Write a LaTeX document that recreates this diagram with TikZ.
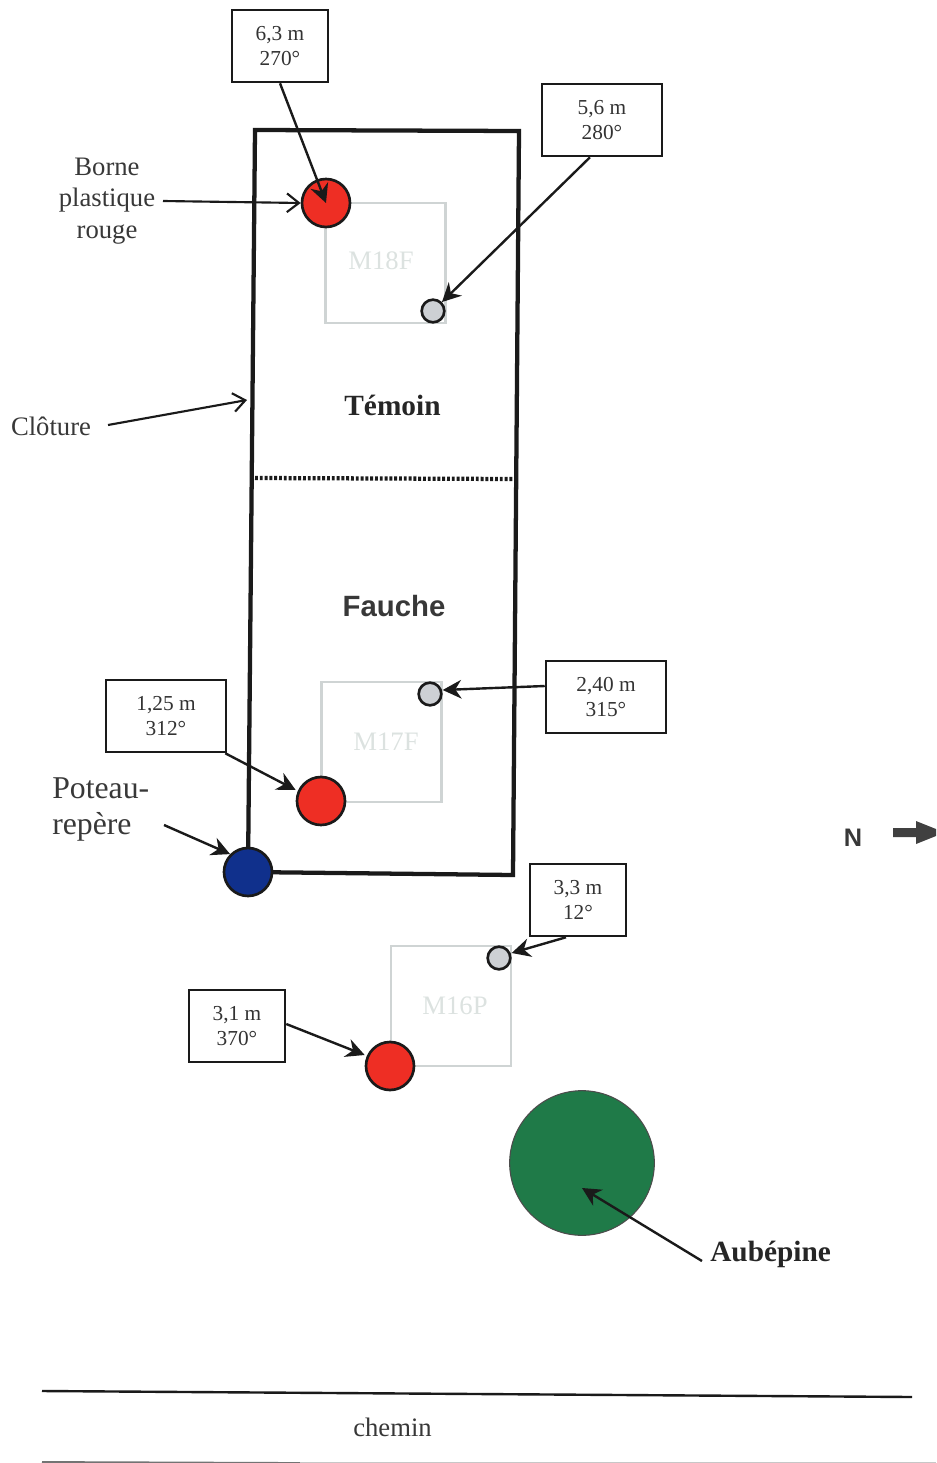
\documentclass[tikz,border=0pt]{standalone}
\usepackage{fontspec}
\setmainfont{Liberation Serif}
\setsansfont{Liberation Sans}
\usetikzlibrary{arrows.meta,calc}
\definecolor{inkc}{HTML}{1A1A1A}
\definecolor{redc}{HTML}{EE2E24}
\definecolor{bluec}{HTML}{10308C}
\definecolor{greenc}{HTML}{1F7A48}
\definecolor{greyc}{HTML}{CDD0D4}
\definecolor{plotc}{HTML}{CFD4D4}
\definecolor{plottxt}{HTML}{DCE2E0}
\tikzset{
  x=0.75pt,y=-0.75pt,
  measure/.style={draw=inkc,line width=1.9pt,fill=white,inner sep=0pt,align=center,text=black!80,
    font=\fontsize{16pt}{18.8pt}\selectfont},
  label26/.style={inner sep=0pt,align=center,text=black!78,font=\fontsize{20pt}{23.6pt}\selectfont},
  boldlab/.style={inner sep=0pt,text=black!85,font=\fontsize{22pt}{26pt}\selectfont\bfseries},
  plotbox/.style={draw=plotc,line width=1.6pt,minimum width=90pt,minimum height=90pt,inner sep=0pt},
  plottext/.style={inner sep=0pt,text=plottxt,font=\fontsize{20pt}{22pt}\selectfont},
  bigdot/.style={circle,draw=inkc,line width=2pt,minimum size=36pt,inner sep=0pt},
  smalldot/.style={circle,draw=inkc,line width=2pt,fill=greyc,minimum size=17pt,inner sep=0pt},
  arr/.style={draw=inkc,line width=1.8pt,-{Stealth[length=14pt,width=14pt]}},
  openarr/.style={draw=inkc,line width=1.6pt,-{Straight Barb[length=9pt,width=14pt]}},
}
\begin{document}
\begin{tikzpicture}
\useasboundingbox (0,0) rectangle (936,1463);
% plots
\node[plotbox] (p18) at (385.5,263) {};
\node[plottext] (t18) at (381,261) {M18F};
\node[plotbox] (p17) at (381.5,742) {};
\node[plottext] (t17) at (386,742) {M17F};
\node[plotbox] (p16) at (451,1006) {};
\node[plottext] (t16) at (455,1006) {M16P};
% fence
\coordinate (f1) at (255,130);
\coordinate (f2) at (519,131);
\coordinate (f3) at (513,875);
\coordinate (f4) at (248,872);
\draw[inkc,line width=3.2pt,line join=miter] (f1) -- (f2) -- (f3) -- (f4) -- cycle;
\coordinate (d1) at (255,478);
\coordinate (d2) at (513,479);
\draw[inkc,line width=3.2pt,dash pattern=on 2.2pt off 1.4pt] (d1) -- (d2);
% markers
\node[bigdot,fill=redc] (r18) at (326,203) {};
\node[smalldot] (g18) at (433,311) {};
\node[bigdot,fill=redc] (r17) at (321,801) {};
\node[smalldot] (g17) at (430,694) {};
\node[bigdot,fill=redc] (r16) at (390,1066) {};
\node[smalldot] (g16) at (499,958) {};
\node[bigdot,fill=bluec] (post) at (248,872) {};
\node[circle,draw=black!70,line width=.8pt,fill=greenc,minimum size=108.5pt,inner sep=0pt] (tree) at (582,1163) {};
% measure boxes
\node[measure,minimum width=72pt,minimum height=54pt] (b1) at (280,46) {6,3 m\\270°};
\node[measure,minimum width=90pt,minimum height=54pt] (b2) at (602,120) {5,6 m\\280°};
\node[measure,minimum width=90pt,minimum height=54pt] (b3) at (606,697) {2,40 m\\315°};
\node[measure,minimum width=90pt,minimum height=54pt] (b4) at (166,716) {1,25 m\\312°};
\node[measure,minimum width=72pt,minimum height=54pt] (b5) at (578,900) {3,3 m\\12°};
\node[measure,minimum width=72pt,minimum height=54pt] (b6) at (237,1026) {3,1 m\\370°};
% labels
\node[label26] (borne) at (107,201) {Borne\\plastique\\rouge};
\node[label26] (cloture) at (51,426) {Clôture};
\node[inner sep=0pt,align=left,text=black!78,font=\fontsize{23.8pt}{27pt}\selectfont,anchor=west] (poteau) at (52,809) {Poteau-\\repère};
\node[boldlab] (temoin) at (392.5,405) {Témoin};
\node[boldlab,font=\fontsize{22pt}{26pt}\sffamily\bfseries,text=black!78] (fauche) at (394,606) {Fauche};
\node[boldlab,anchor=west] (aub) at (710,1254) {Aubépine};
\node[label26] (chemin) at (392.5,1427) {chemin};
\node[inner sep=0pt,text=black!78,font=\fontsize{19pt}{22pt}\sffamily\bfseries] (north) at (853,838) {N};
% connectors
\draw[arr] (b1.south) -- (r18.center);
\draw[arr] ($(b2.south)+(-12,0)$) -- (g18.north east);
\draw[arr] (b3.west |- 0,686) -- (g17.east |- 0,690);
\draw[arr] ($(b4.south east)+(-2,0)$) -- (r17.west |- 0,790);
\draw[arr] ($(b5.south)+(-12,0)$) -- (g16.east |- 0,953);
\draw[arr] (b6.east |- 0,1024) -- (r16.west |- 0,1055);
\coordinate (pa) at (164,825);
\draw[arr] (pa) -- (post.north west);
\coordinate (ba) at (163,201);
\draw[openarr] (ba) -- (r18.west);
\coordinate (ca) at (108,425);
\coordinate (cb) at (247,400);
\draw[openarr] (ca) -- (cb);
\coordinate (aa) at (702,1261);
\coordinate (ab) at (582,1188);
\draw[arr] (aa) -- (ab);
% road
\coordinate (w1) at (42,1391);
\coordinate (w2) at (912,1397);
\draw[inkc,line width=1.8pt] (w1) -- (w2);
\coordinate (w3) at (42,1462);
\coordinate (w4) at (300,1463);
\coordinate (w5) at (936,1463);
\draw[black!55,line width=1.4pt] (w3) -- (w4);
\draw[black!22,line width=1pt] (w4) -- (w5);
% north arrow
\fill[black!75] (893,828) -- (916,828) -- (916,821) -- (936,829) -- (936,836) -- (916,844) -- (916,837) -- (893,837) -- cycle;
\end{tikzpicture}
\end{document}
